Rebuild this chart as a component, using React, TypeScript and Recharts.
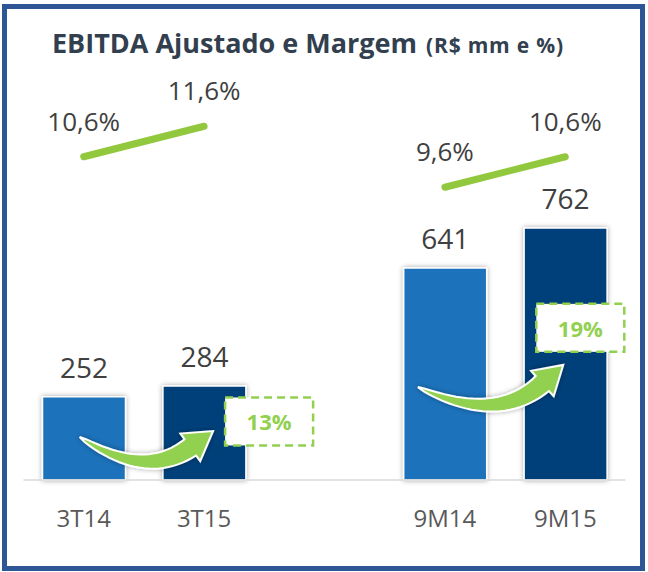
import { Bar, BarChart, Cell, LabelList, Line, ReferenceDot, ReferenceLine, XAxis, YAxis } from 'recharts';

const categories = ['3T14', '3T15', '', '9M14', '9M15'];
const ebitda = [252, 284, null, 641, 762];
const margem = [10.6, 11.6, null, 9.6, 10.6];
const growth = ['13%', '19%'];

const barColors = ['#1C72BB', '#00407A', '#ffffff', '#1C72BB', '#00407A'];
const GREEN = '#92C83E';
const FONT = '"Open Sans", sans-serif';

const data = categories.map((cat, i) => ({ cat, ebitda: ebitda[i], margem: margem[i] }));

// arrow + box placement (chart units on the bar axis, pixel nudges)
const arrows = [
  { from: '3T14', to: '3T15', y1: 130, y2: 148, dx1: -4, dx2: 9 },
  { from: '9M14', to: '9M15', y1: 281, y2: 348, dx1: -27, dx2: -2 },
];
const boxes = [
  { at: '3T15', y: 177, dx: 65, label: growth[0] },
  { at: '9M15', y: 460, dx: 15, label: growth[1] },
];

function arrowPath(ax: number, ay: number, bx: number, by: number) {
  const L = Math.hypot(bx - ax, by - ay);
  const e1 = [(bx - ax) / L, (by - ay) / L];
  const e2 = [-e1[1], e1[0]];
  const toG = (x: number, y: number) => [ax + x * e1[0] + y * e2[0], ay + x * e1[1] + y * e2[1]];
  const a = (33 * Math.PI) / 180;
  const hl = 28, hw = 17, bw = 10;
  const B = [L - hl * Math.cos(a), hl * Math.sin(a)];
  const k = 0.42 * L;
  const C = [B[0] - k * Math.cos(a), B[1] + k * Math.sin(a)];
  const left: number[][] = [];
  const right: number[][] = [];
  const N = 24;
  for (let i = 0; i <= N; i++) {
    const t = i / N;
    const px = 2 * (1 - t) * t * C[0] + t * t * B[0];
    const py = 2 * (1 - t) * t * C[1] + t * t * B[1];
    const dx = 2 * (1 - t) * C[0] + 2 * t * (B[0] - C[0]);
    const dy = 2 * (1 - t) * C[1] + 2 * t * (B[1] - C[1]);
    const d = Math.hypot(dx, dy) || 1;
    const nx = -dy / d, ny = dx / d;
    const w = bw * Math.pow(t, 0.6);
    left.push([px + nx * w, py + ny * w]);
    right.push([px - nx * w, py - ny * w]);
  }
  const nB = [Math.sin(a), Math.cos(a)];
  const pts = [
    ...left,
    [B[0] + nB[0] * hw, B[1] + nB[1] * hw],
    [L, 0],
    [B[0] - nB[0] * hw, B[1] - nB[1] * hw],
    ...right.reverse(),
  ].map(([x, y]) => toG(x, y));
  return 'M' + pts.map(p => `${p[0].toFixed(1)},${p[1].toFixed(1)}`).join('L') + 'Z';
}

const Tick = (props: any) => {
  const { x, y, payload } = props;
  return (
    <text x={x} y={y + 35} textAnchor="middle" dominantBaseline="central" fontSize={24} fill="#595959" fontFamily={FONT}>
      {payload.value}
    </text>
  );
};

const pct = (v: any) => (v == null ? '' : `${String(v).replace('.', ',')}%`);

export default function App() {
  return (
    <div style={{ position: 'relative', width: 648, height: 572, background: '#fff', fontFamily: FONT }}>
      <style>{'body{margin:0}'}</style>
      <div
        style={{
          position: 'absolute', left: 2, top: 4, width: 643, height: 567,
          boxSizing: 'border-box', border: '5px solid #2E5596',
        }}
      />
      <div style={{ position: 'absolute', left: 52, top: 24, whiteSpace: 'nowrap', color: '#323F4F', fontWeight: 700 }}>
        <span style={{ fontSize: 27 }}>EBITDA Ajustado e Margem</span>
        <span style={{ fontSize: 21, marginLeft: 9, letterSpacing: 0.8 }}>(R$ mm e %)</span>
      </div>
      <div style={{ position: 'absolute', left: 0, top: 0 }}>
        <BarChart width={648} height={572} data={data} margin={{ top: 50, right: 22.5, left: 23.5, bottom: 42 }}>
          <defs>
            <filter id="shadow" x="-20%" y="-20%" width="140%" height="140%">
              <feDropShadow dx="0" dy="0" stdDeviation="2.5" floodColor="#000" floodOpacity="0.35" />
            </filter>
          </defs>
          <XAxis
            dataKey="cat"
            height={50}
            tickLine={false}
            tickSize={0}
            axisLine={{ stroke: '#D9D9D9', strokeWidth: 1.5 }}
            tick={<Tick />}
            interval={0}
          />
          <YAxis yAxisId="bar" domain={[0, 1300]} hide />
          <YAxis yAxisId="m" orientation="right" domain={[0, 14.1]} hide />
          <Bar yAxisId="bar" dataKey="ebitda" barSize={83} isAnimationActive={false} filter="url(#shadow)">
            {data.map((d, i) => (
              <Cell key={d.cat + i} fill={barColors[i]} stroke="#ffffff" strokeWidth={1.5} />
            ))}
            <LabelList dataKey="ebitda" position="top" offset={19} fontSize={28} fill="#404040" fontFamily={FONT} />
          </Bar>
          <Line
            yAxisId="m"
            dataKey="margem"
            stroke={GREEN}
            strokeWidth={7}
            strokeLinecap="round"
            dot={false}
            connectNulls={false}
            isAnimationActive={false}
          >
            <LabelList dataKey="margem" position="top" offset={26} fontSize={26} fill="#404040" fontFamily={FONT} formatter={pct} />
          </Line>
          {arrows.map((a, i) => (
            <ReferenceLine
              key={'a' + i}
              yAxisId="bar"
              segment={[{ x: a.from, y: a.y1 }, { x: a.to, y: a.y2 }]}
              shape={(p: any) => (
                <path
                  d={arrowPath(p.x1 + a.dx1, p.y1, p.x2 + a.dx2, p.y2)}
                  fill="#92D050"
                  stroke="#ffffff"
                  strokeWidth={2}
                  filter="url(#shadow)"
                />
              )}
            />
          ))}
          {boxes.map((b, i) => (
            <ReferenceDot
              key={'b' + i}
              yAxisId="bar"
              x={b.at}
              y={b.y}
              shape={(p: any) => (
                <g>
                  <rect
                    x={p.cx + b.dx - 44}
                    y={p.cy - 24}
                    width={88}
                    height={48}
                    fill="#ffffff"
                    stroke="#92D050"
                    strokeWidth={2.5}
                    strokeDasharray="8 5"
                  />
                  <text
                    x={p.cx + b.dx}
                    y={p.cy}
                    textAnchor="middle"
                    dominantBaseline="central"
                    fontSize={22}
                    fontWeight={700}
                    fill="#92D050"
                    fontFamily={FONT}
                  >
                    {b.label}
                  </text>
                </g>
              )}
            />
          ))}
        </BarChart>
      </div>
    </div>
  );
}
